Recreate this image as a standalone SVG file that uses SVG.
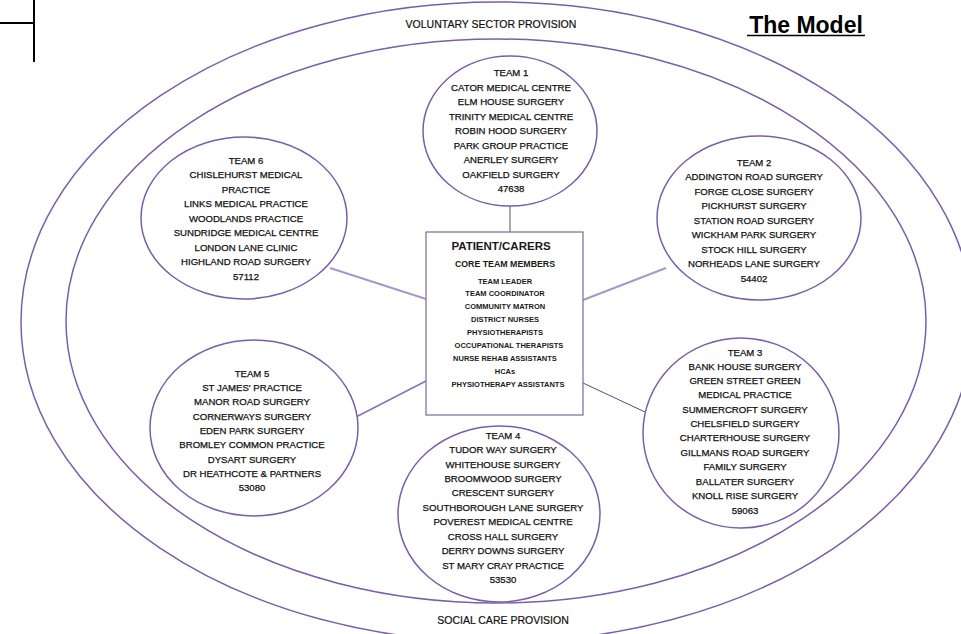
<svg xmlns="http://www.w3.org/2000/svg" width="961" height="634" viewBox="0 0 961 634">
<style>
.ring{fill:none;stroke:#7b5ea7;stroke-width:1.5}
.team{fill:#fff;stroke:#7b5ea7;stroke-width:1.5}
.t{font-family:"Liberation Sans",Arial,sans-serif;font-size:9.6px;fill:#111;stroke:#111;stroke-width:0.25;text-anchor:middle}
.b{font-family:"Liberation Sans",Arial,sans-serif;font-weight:bold;fill:#1a1a1a;text-anchor:middle}
.lbl{font-family:"Liberation Sans",Arial,sans-serif;font-size:10.5px;fill:#111;stroke:#111;stroke-width:0.2;text-anchor:middle}
</style>
<rect width="961" height="634" fill="#fff"/>
<g id="corner" stroke="#000" stroke-width="2" fill="none">
<line x1="34" y1="0" x2="34" y2="62"/>
<line x1="0" y1="23" x2="34" y2="23"/>
</g>
<g id="outer">
<ellipse class="ring" cx="497" cy="322" rx="476" ry="320"/>
<text class="lbl" x="491" y="28">VOLUNTARY SECTOR PROVISION</text>
<text class="lbl" x="503" y="624">SOCIAL CARE PROVISION</text>
</g>
<g id="inner">
<ellipse class="ring" cx="496" cy="321" rx="430" ry="282"/>
</g>
<g id="title">
<text x="806" y="33" font-family="'Liberation Sans',Arial,sans-serif" font-size="23" font-weight="bold" text-anchor="middle" fill="#000">The Model</text>
<line x1="747" y1="35.5" x2="865" y2="35.5" stroke="#000" stroke-width="1.6"/>
</g>
<g id="connectors" fill="none">
<line x1="510" y1="205" x2="510" y2="232" stroke="#555" stroke-width="1"/>
<line x1="330" y1="268" x2="426" y2="299" stroke="#a898c8" stroke-width="2"/>
<line x1="583" y1="300" x2="666" y2="268" stroke="#a898c8" stroke-width="2"/>
<line x1="356" y1="417" x2="426" y2="381" stroke="#8a70b5" stroke-width="1.5"/>
<line x1="583" y1="383" x2="645" y2="412" stroke="#5a4a80" stroke-width="1"/>
</g>
<g id="team1">
<ellipse class="team" cx="510" cy="131" rx="87" ry="75"/>
<text class="t" x="511"><tspan x="511" y="76">TEAM 1</tspan><tspan x="511" y="90.5">CATOR MEDICAL CENTRE</tspan><tspan x="511" y="105">ELM HOUSE SURGERY</tspan><tspan x="511" y="119.5">TRINITY MEDICAL CENTRE</tspan><tspan x="511" y="134">ROBIN HOOD SURGERY</tspan><tspan x="511" y="148.5">PARK GROUP PRACTICE</tspan><tspan x="511" y="163">ANERLEY SURGERY</tspan><tspan x="511" y="177.5">OAKFIELD SURGERY</tspan><tspan x="511" y="192">47638</tspan></text>
</g>
<g id="team6">
<ellipse class="team" cx="244" cy="218" rx="103" ry="81"/>
<text class="t"><tspan x="246" y="163.5">TEAM 6</tspan><tspan x="246" y="178">CHISLEHURST MEDICAL</tspan><tspan x="246" y="192.5">PRACTICE</tspan><tspan x="246" y="207">LINKS MEDICAL PRACTICE</tspan><tspan x="246" y="221.5">WOODLANDS PRACTICE</tspan><tspan x="246" y="236">SUNDRIDGE MEDICAL CENTRE</tspan><tspan x="246" y="250.5">LONDON LANE CLINIC</tspan><tspan x="246" y="265">HIGHLAND ROAD SURGERY</tspan><tspan x="246" y="279.5">57112</tspan></text>
</g>
<g id="team2">
<ellipse class="team" cx="759" cy="218" rx="102" ry="82"/>
<text class="t"><tspan x="754" y="165.5">TEAM 2</tspan><tspan x="754" y="180">ADDINGTON ROAD SURGERY</tspan><tspan x="754" y="194.5">FORGE CLOSE SURGERY</tspan><tspan x="754" y="209">PICKHURST SURGERY</tspan><tspan x="754" y="223.5">STATION ROAD SURGERY</tspan><tspan x="754" y="238">WICKHAM PARK SURGERY</tspan><tspan x="754" y="252.5">STOCK HILL SURGERY</tspan><tspan x="754" y="267">NORHEADS LANE SURGERY</tspan><tspan x="754" y="281.5">54402</tspan></text>
</g>
<g id="center-box">
<rect x="426" y="232" width="157" height="183" fill="#fff" stroke="#7b6aa0" stroke-width="1.2"/>
<text class="b" x="501" y="249.5" font-size="11.5">PATIENT/CARERS</text>
<text class="b" x="505" y="266.5" font-size="8.8">CORE TEAM MEMBERS</text>
<text class="b" font-size="7.5"><tspan x="505" y="283.5">TEAM LEADER</tspan><tspan x="505" y="296">TEAM COORDINATOR</tspan><tspan x="505" y="309">COMMUNITY MATRON</tspan><tspan x="505" y="322">DISTRICT NURSES</tspan><tspan x="505" y="335">PHYSIOTHERAPISTS</tspan><tspan x="509" y="348">OCCUPATIONAL THERAPISTS</tspan><tspan x="505" y="360.5">NURSE REHAB ASSISTANTS</tspan><tspan x="505" y="373.5">HCAs</tspan><tspan x="508" y="386.5">PHYSIOTHERAPY ASSISTANTS</tspan></text>
</g>
<g id="team5">
<ellipse class="team" cx="254" cy="428" rx="104" ry="88"/>
<text class="t"><tspan x="252" y="376.5">TEAM 5</tspan><tspan x="252" y="391">ST JAMES' PRACTICE</tspan><tspan x="252" y="405">MANOR ROAD SURGERY</tspan><tspan x="252" y="419.5">CORNERWAYS SURGERY</tspan><tspan x="252" y="433.5">EDEN PARK SURGERY</tspan><tspan x="252" y="448">BROMLEY COMMON PRACTICE</tspan><tspan x="252" y="462.5">DYSART SURGERY</tspan><tspan x="252" y="476.5">DR HEATHCOTE &amp; PARTNERS</tspan><tspan x="252" y="491">53080</tspan></text>
</g>
<g id="team3">
<ellipse class="team" cx="741" cy="433" rx="98" ry="95"/>
<text class="t"><tspan x="745" y="355.5">TEAM 3</tspan><tspan x="745" y="370">BANK HOUSE SURGERY</tspan><tspan x="745" y="384">GREEN STREET GREEN</tspan><tspan x="745" y="398">MEDICAL PRACTICE</tspan><tspan x="745" y="412.5">SUMMERCROFT SURGERY</tspan><tspan x="745" y="426.5">CHELSFIELD SURGERY</tspan><tspan x="745" y="441">CHARTERHOUSE SURGERY</tspan><tspan x="745" y="455.5">GILLMANS ROAD SURGERY</tspan><tspan x="745" y="469.5">FAMILY SURGERY</tspan><tspan x="745" y="484.5">BALLATER SURGERY</tspan><tspan x="745" y="498.5">KNOLL RISE SURGERY</tspan><tspan x="745" y="513.5">59063</tspan></text>
</g>
<g id="team4">
<ellipse class="team" cx="499" cy="514" rx="101" ry="88"/>
<text class="t"><tspan x="503" y="438.5">TEAM 4</tspan><tspan x="503" y="452.5">TUDOR WAY SURGERY</tspan><tspan x="503" y="467.5">WHITEHOUSE SURGERY</tspan><tspan x="503" y="481.5">BROOMWOOD SURGERY</tspan><tspan x="503" y="495.5">CRESCENT SURGERY</tspan><tspan x="503" y="510.5">SOUTHBOROUGH LANE SURGERY</tspan><tspan x="503" y="524.5">POVEREST MEDICAL CENTRE</tspan><tspan x="503" y="539.5">CROSS HALL SURGERY</tspan><tspan x="503" y="553.5">DERRY DOWNS SURGERY</tspan><tspan x="503" y="568.5">ST MARY CRAY PRACTICE</tspan><tspan x="503" y="582.5">53530</tspan></text>
</g>
</svg>
